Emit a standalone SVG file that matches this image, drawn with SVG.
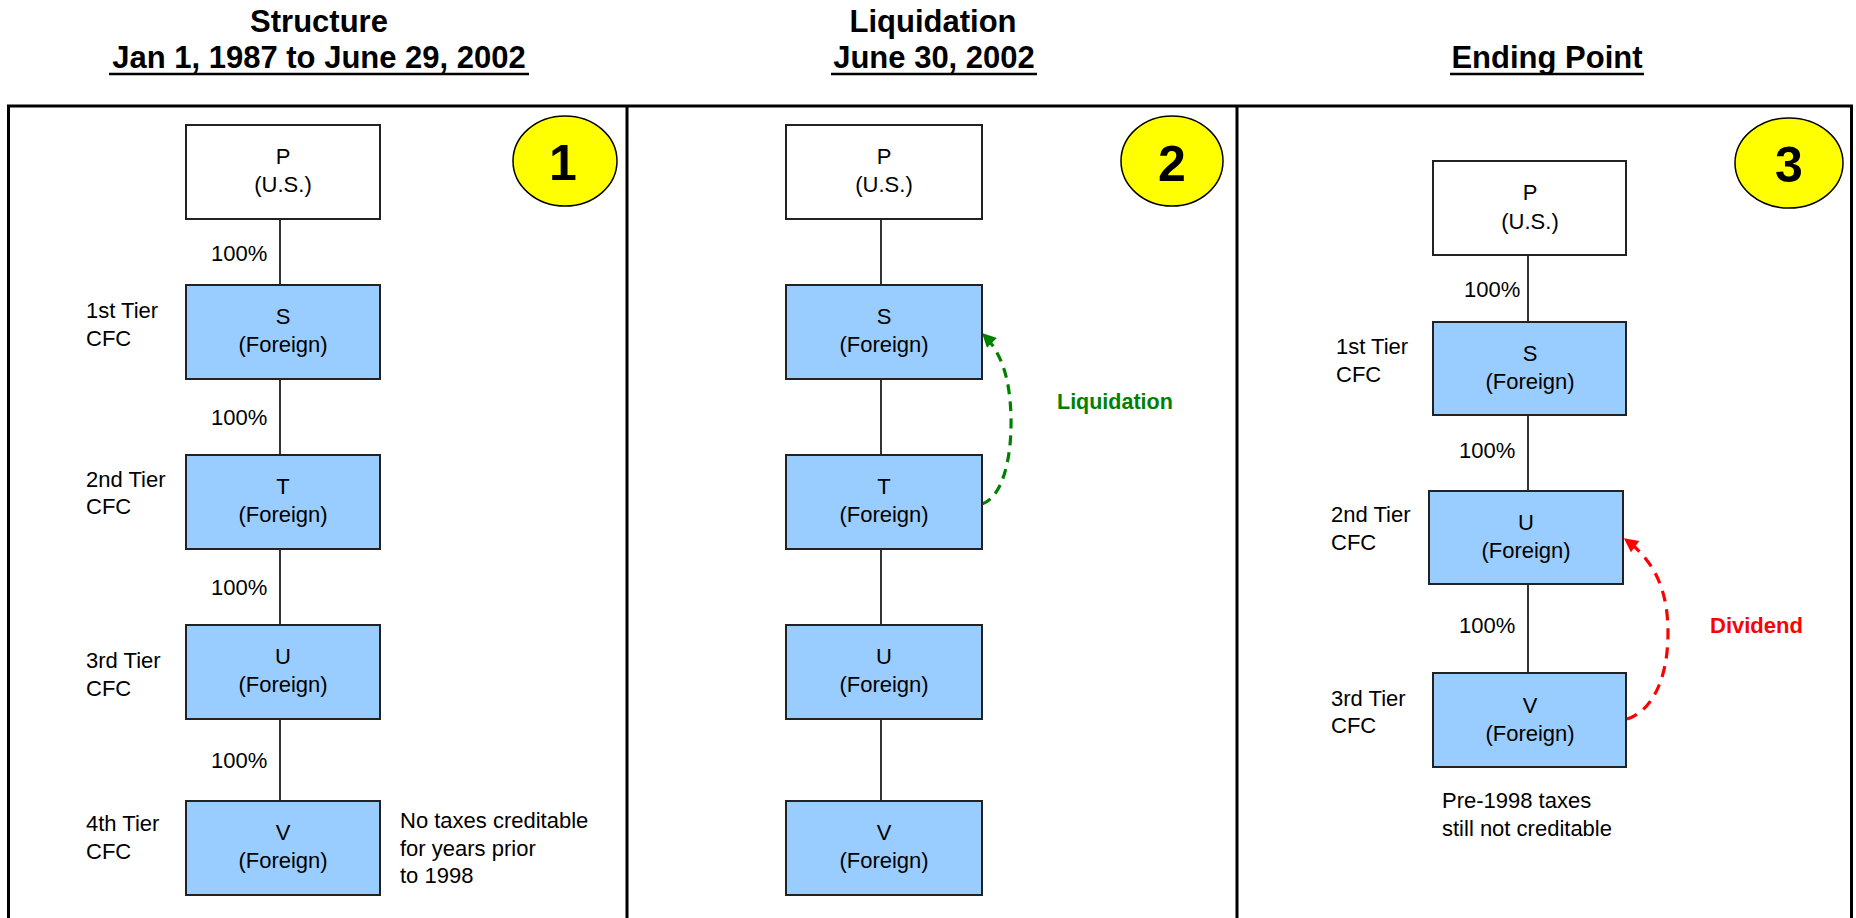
<svg xmlns="http://www.w3.org/2000/svg" width="1856" height="918" viewBox="0 0 1856 918">
<style>
text{font-family:"Liberation Sans",Arial,sans-serif;fill:#000}
.title{font-size:31px;font-weight:bold;text-anchor:middle}
.ul{stroke:#000;stroke-width:2.5}
.box{fill:#99CCFF;stroke:#222;stroke-width:2}
.pbox{fill:#fff;stroke:#222;stroke-width:2}
.bt{font-size:22px;text-anchor:middle}
.lbl{font-size:22px}
.num{fill:#FFFF00;stroke:#000;stroke-width:1.5}
.numt{font-size:50px;font-weight:bold;text-anchor:middle}
.link{stroke:#000;stroke-width:1.6;fill:none}
.frame{fill:none;stroke:#000;stroke-width:3}
</style>
<defs>
<marker id="ahG" viewBox="0 0 10 10" refX="9" refY="5" markerWidth="17" markerHeight="14" markerUnits="userSpaceOnUse" orient="auto">
<path d="M0,0 L10,5 L0,10 z" fill="#008000"/>
</marker>
<marker id="ahR" viewBox="0 0 10 10" refX="9" refY="5" markerWidth="17" markerHeight="14" markerUnits="userSpaceOnUse" orient="auto">
<path d="M0,0 L10,5 L0,10 z" fill="#FF0000"/>
</marker>
</defs>
<rect width="1856" height="918" fill="#fff"/>

<g id="titles">
<text class="title" x="319" y="32">Structure</text>
<text class="title" x="319" y="68">Jan 1, 1987 to June 29, 2002</text>
<line class="ul" x1="109" y1="74" x2="529" y2="74"/>
<text class="title" x="933" y="32">Liquidation</text>
<text class="title" x="934" y="68">June 30, 2002</text>
<line class="ul" x1="831" y1="74" x2="1037" y2="74"/>
<text class="title" x="1547" y="68">Ending Point</text>
<line class="ul" x1="1450" y1="74" x2="1644" y2="74"/>
</g>

<g id="frame">
<rect class="frame" x="8.5" y="106" width="1843" height="830"/>
<line class="frame" x1="627" y1="106" x2="627" y2="930"/>
<line class="frame" x1="1237" y1="106" x2="1237" y2="930"/>
</g>

<g id="connectors">
<line class="link" x1="280" y1="219" x2="280" y2="285"/>
<line class="link" x1="280" y1="379" x2="280" y2="455"/>
<line class="link" x1="280" y1="549" x2="280" y2="625"/>
<line class="link" x1="280" y1="719" x2="280" y2="801"/>
<line class="link" x1="881" y1="219" x2="881" y2="285"/>
<line class="link" x1="881" y1="379" x2="881" y2="455"/>
<line class="link" x1="881" y1="549" x2="881" y2="625"/>
<line class="link" x1="881" y1="719" x2="881" y2="801"/>
<line class="link" x1="1528" y1="255" x2="1528" y2="322"/>
<line class="link" x1="1528" y1="415" x2="1528" y2="491"/>
<line class="link" x1="1528" y1="584" x2="1528" y2="673"/>
<path d="M982,504 C1001,498 1012,462 1011,417 C1010,377 1001,352 983,334" fill="none" stroke="#008000" stroke-width="3.2" stroke-dasharray="10 7" marker-end="url(#ahG)"/>
<path d="M1627,719 C1650,712 1668,682 1668,633 C1668,592 1656,562 1625,539" fill="none" stroke="#FF0000" stroke-width="3.2" stroke-dasharray="11 8" marker-end="url(#ahR)"/>
</g>

<g id="edge-labels">
<text class="lbl" x="211" y="261">100%</text>
<text class="lbl" x="211" y="425">100%</text>
<text class="lbl" x="211" y="595">100%</text>
<text class="lbl" x="211" y="768">100%</text>
<text class="lbl" x="1464" y="297">100%</text>
<text class="lbl" x="1459" y="458">100%</text>
<text class="lbl" x="1459" y="633">100%</text>
<text x="1057" y="409" style="font-size:21.5px;font-weight:bold;fill:#008000">Liquidation</text>
<text x="1710" y="633" style="font-size:22px;font-weight:bold;fill:#FF0000">Dividend</text>
</g>

<g id="badge1"><ellipse class="num" cx="565" cy="161" rx="52" ry="45"/><text class="numt" x="563" y="180">1</text></g>
<g id="badge2"><ellipse class="num" cx="1172" cy="161" rx="51" ry="45"/><text class="numt" x="1172" y="181">2</text></g>
<g id="badge3"><ellipse class="num" cx="1789" cy="163" rx="54" ry="45"/><text class="numt" x="1789" y="182">3</text></g>

<!-- Panel 1 -->
<g id="p1-P"><rect class="pbox" x="186" y="125" width="194" height="94"/><text class="bt" x="283" y="164">P</text><text class="bt" x="283" y="192">(U.S.)</text></g>
<g id="p1-S"><rect class="box" x="186" y="285" width="194" height="94"/><text class="bt" x="283" y="324">S</text><text class="bt" x="283" y="352">(Foreign)</text>
<text class="lbl" x="86" y="318">1st Tier</text><text class="lbl" x="86" y="346">CFC</text></g>
<g id="p1-T"><rect class="box" x="186" y="455" width="194" height="94"/><text class="bt" x="283" y="494">T</text><text class="bt" x="283" y="522">(Foreign)</text>
<text class="lbl" x="86" y="487">2nd Tier</text><text class="lbl" x="86" y="514">CFC</text></g>
<g id="p1-U"><rect class="box" x="186" y="625" width="194" height="94"/><text class="bt" x="283" y="664">U</text><text class="bt" x="283" y="692">(Foreign)</text>
<text class="lbl" x="86" y="668">3rd Tier</text><text class="lbl" x="86" y="696">CFC</text></g>
<g id="p1-V"><rect class="box" x="186" y="801" width="194" height="94"/><text class="bt" x="283" y="840">V</text><text class="bt" x="283" y="868">(Foreign)</text>
<text class="lbl" x="86" y="831">4th Tier</text><text class="lbl" x="86" y="859">CFC</text></g>
<g id="p1-note"><text class="lbl" x="400" y="828">No taxes creditable</text><text class="lbl" x="400" y="856">for years prior</text><text class="lbl" x="400" y="883">to 1998</text></g>

<!-- Panel 2 -->
<g id="p2-P"><rect class="pbox" x="786" y="125" width="196" height="94"/><text class="bt" x="884" y="164">P</text><text class="bt" x="884" y="192">(U.S.)</text></g>
<g id="p2-S"><rect class="box" x="786" y="285" width="196" height="94"/><text class="bt" x="884" y="324">S</text><text class="bt" x="884" y="352">(Foreign)</text></g>
<g id="p2-T"><rect class="box" x="786" y="455" width="196" height="94"/><text class="bt" x="884" y="494">T</text><text class="bt" x="884" y="522">(Foreign)</text></g>
<g id="p2-U"><rect class="box" x="786" y="625" width="196" height="94"/><text class="bt" x="884" y="664">U</text><text class="bt" x="884" y="692">(Foreign)</text></g>
<g id="p2-V"><rect class="box" x="786" y="801" width="196" height="94"/><text class="bt" x="884" y="840">V</text><text class="bt" x="884" y="868">(Foreign)</text></g>

<!-- Panel 3 -->
<g id="p3-P"><rect class="pbox" x="1433" y="161" width="193" height="94"/><text class="bt" x="1530" y="200">P</text><text class="bt" x="1530" y="229">(U.S.)</text></g>
<g id="p3-S"><rect class="box" x="1433" y="322" width="193" height="93"/><text class="bt" x="1530" y="361">S</text><text class="bt" x="1530" y="389">(Foreign)</text>
<text class="lbl" x="1336" y="354">1st Tier</text><text class="lbl" x="1336" y="382">CFC</text></g>
<g id="p3-U"><rect class="box" x="1429" y="491" width="194" height="93"/><text class="bt" x="1526" y="530">U</text><text class="bt" x="1526" y="558">(Foreign)</text>
<text class="lbl" x="1331" y="522">2nd Tier</text><text class="lbl" x="1331" y="550">CFC</text></g>
<g id="p3-V"><rect class="box" x="1433" y="673" width="193" height="94"/><text class="bt" x="1530" y="713">V</text><text class="bt" x="1530" y="741">(Foreign)</text>
<text class="lbl" x="1331" y="706">3rd Tier</text><text class="lbl" x="1331" y="733">CFC</text></g>
<g id="p3-note"><text class="lbl" x="1442" y="808">Pre-1998 taxes</text><text class="lbl" x="1442" y="836">still not creditable</text></g>
</svg>
